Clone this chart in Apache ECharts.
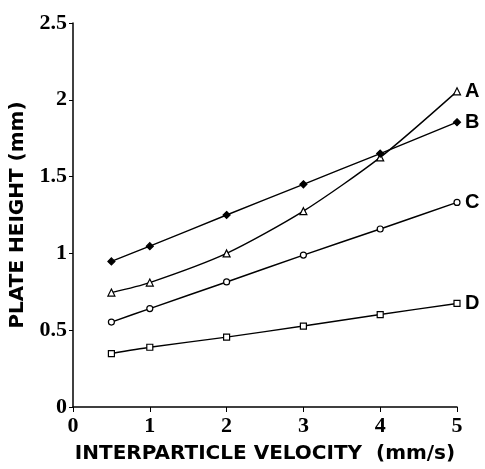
<!DOCTYPE html>
<html>
<head>
<meta charset="utf-8">
<script src="https://cdn.jsdelivr.net/npm/echarts@6/dist/echarts.min.js"></script>
<style>
html,body{margin:0;padding:0;background:#fff;}
#chart{width:485px;height:469px;}
</style>
</head>
<body>
<div id="chart"></div>
<script>
const velocities = [0.5, 1, 2, 3, 4, 5];
const seriesA = [0.745, 0.81, 1.0, 1.275, 1.625, 2.055];
const seriesB = [0.948, 1.047, 1.25, 1.45, 1.65, 1.854];
const seriesC = [0.553, 0.641, 0.814, 0.989, 1.159, 1.332];
const seriesD = [0.348, 0.389, 0.455, 0.527, 0.602, 0.674];
const seriesNames = ['A', 'B', 'C', 'D'];
const xTicks = [0, 1, 2, 3, 4, 5];
const yTicks = [0, 0.5, 1, 1.5, 2, 2.5];

const pairs = arr => velocities.map((v, i) => [v, arr[i]]);
const symbols = ['triangle', 'diamond', 'circle', 'rect'];
const sizes = [7, 7, 6, 6];
const fills = ['#fff', '#000', '#fff', '#fff'];
const all = [seriesA, seriesB, seriesC, seriesD];

const chart = echarts.init(document.getElementById('chart'));
chart.setOption({
  animation: false,
  backgroundColor: '#fff',
  grid: { left: 73, right: 28, top: 23, bottom: 60, containLabel: false },
  xAxis: {
    type: 'value', min: 0, max: 5, interval: 1,
    name: 'INTERPARTICLE VELOCITY  (mm/s)',
    nameLocation: 'middle', nameGap: 37,
    nameTextStyle: { fontFamily: 'DejaVu Sans', fontWeight: 'bold', fontSize: 20, color: '#000' },
    axisLine: { lineStyle: { color: '#000', width: 1.5 } },
    axisTick: { show: true, inside: false, length: 5, lineStyle: { color: '#000', width: 1 } },
    axisLabel: { fontFamily: 'Liberation Serif', fontWeight: 'bold', fontSize: 22, color: '#000', margin: 8,
      formatter: v => xTicks.includes(v) ? String(v) : '' },
    splitLine: { show: false }
  },
  yAxis: {
    type: 'value', min: 0, max: 2.5, interval: 0.5,
    name: 'PLATE HEIGHT (mm)',
    nameLocation: 'middle', nameGap: 45,
    nameTextStyle: { fontFamily: 'DejaVu Sans', fontWeight: 'bold', fontSize: 20, color: '#000' },
    axisLine: { show: true, lineStyle: { color: '#000', width: 1.5 } },
    axisTick: { show: true, inside: false, length: 4, lineStyle: { color: '#000', width: 1 } },
    axisLabel: { fontFamily: 'Liberation Serif', fontWeight: 'bold', fontSize: 22, color: '#000', margin: 6,
      formatter: v => yTicks.includes(v) ? String(v) : '' },
    splitLine: { show: false }
  },
  series: all.map((arr, k) => ({
    name: seriesNames[k],
    type: 'line',
    data: pairs(arr),
    smooth: 0.25,
    symbol: symbols[k],
    symbolSize: sizes[k],
    showAllSymbol: true,
    lineStyle: { color: '#000', width: 1.4 },
    itemStyle: { color: fills[k], borderColor: '#000', borderWidth: 1.2 },
    endLabel: {
      show: true, formatter: seriesNames[k], distance: 8,
      fontFamily: 'Liberation Sans', fontWeight: 'bold', fontSize: 20, color: '#000'
    },
    emphasis: { disabled: true }
  }))
});
</script>
</body>
</html>
